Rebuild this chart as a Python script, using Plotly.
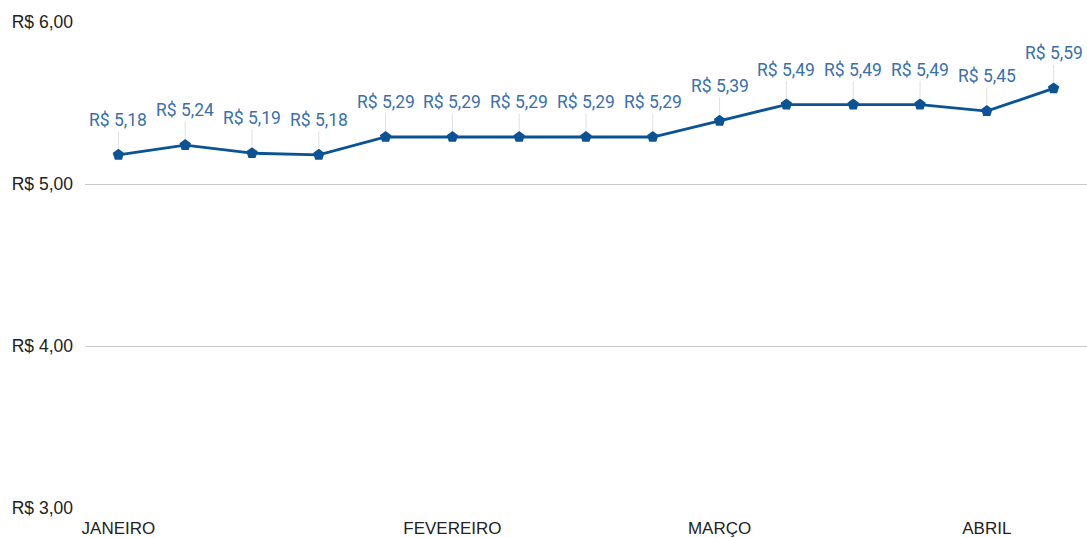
import plotly.graph_objects as go

points = list(range(15))
values = [5.18, 5.24, 5.19, 5.18, 5.29, 5.29, 5.29, 5.29, 5.29, 5.39, 5.49, 5.49, 5.49, 5.45, 5.59]
month_positions = [0, 5, 9, 13]
month_labels = ["JANEIRO", "FEVEREIRO", "MARÇO", "ABRIL"]
y_ticks = [3, 4, 5, 6]
y_tick_labels = ["R$ 3,00", "R$ 4,00", "R$ 5,00", "R$ 6,00"]

line_color = "#0b5394"
label_color = "#3a70b0"

def brl(v):
    return "R$ " + f"{v:.2f}".replace(".", ",")

fig = go.Figure()
fig.add_trace(go.Scatter(
    x=points, y=values, mode="lines+markers",
    line=dict(color=line_color, width=2.8),
    marker=dict(symbol="pentagon", size=12, color=line_color),
    hoverinfo="skip", showlegend=False,
))

for x, v in zip(points, values):
    fig.add_annotation(
        x=x, y=v, xref="x", yref="y", text=brl(v),
        showarrow=True, arrowhead=0, arrowwidth=1, arrowcolor="#e0e0e0",
        ax=0, ay=-35, standoff=6,
        font=dict(family="Roboto", size=17.5, color=label_color),
    )

fig.update_layout(
    width=1087, height=538,
    margin=dict(l=85, r=0, t=22, b=30),
    paper_bgcolor="white", plot_bgcolor="white",
    font=dict(family="Liberation Sans, Arial", size=17, color="#222222"),
)
fig.update_xaxes(
    range=[-0.5, 14.5], tickmode="array", tickvals=month_positions, ticktext=month_labels,
    showgrid=False, zeroline=False, showline=False, ticks="", ticklabelstandoff=8,
    tickfont=dict(family="Liberation Sans, Arial", size=17, color="#222222"),
)
fig.update_yaxes(
    range=[3, 6], tickmode="array", tickvals=y_ticks, ticktext=y_tick_labels,
    showgrid=True, gridcolor="#cccccc", gridwidth=1, zeroline=False, showline=False,
    ticks="", ticklabelstandoff=11,
    tickfont=dict(family="Liberation Sans, Arial", size=17.5, color="#222222"),
)

fig.write_html("out.html", config={"displayModeBar": False},
               post_script="document.body.style.margin='0';document.body.style.overflow='hidden';")
